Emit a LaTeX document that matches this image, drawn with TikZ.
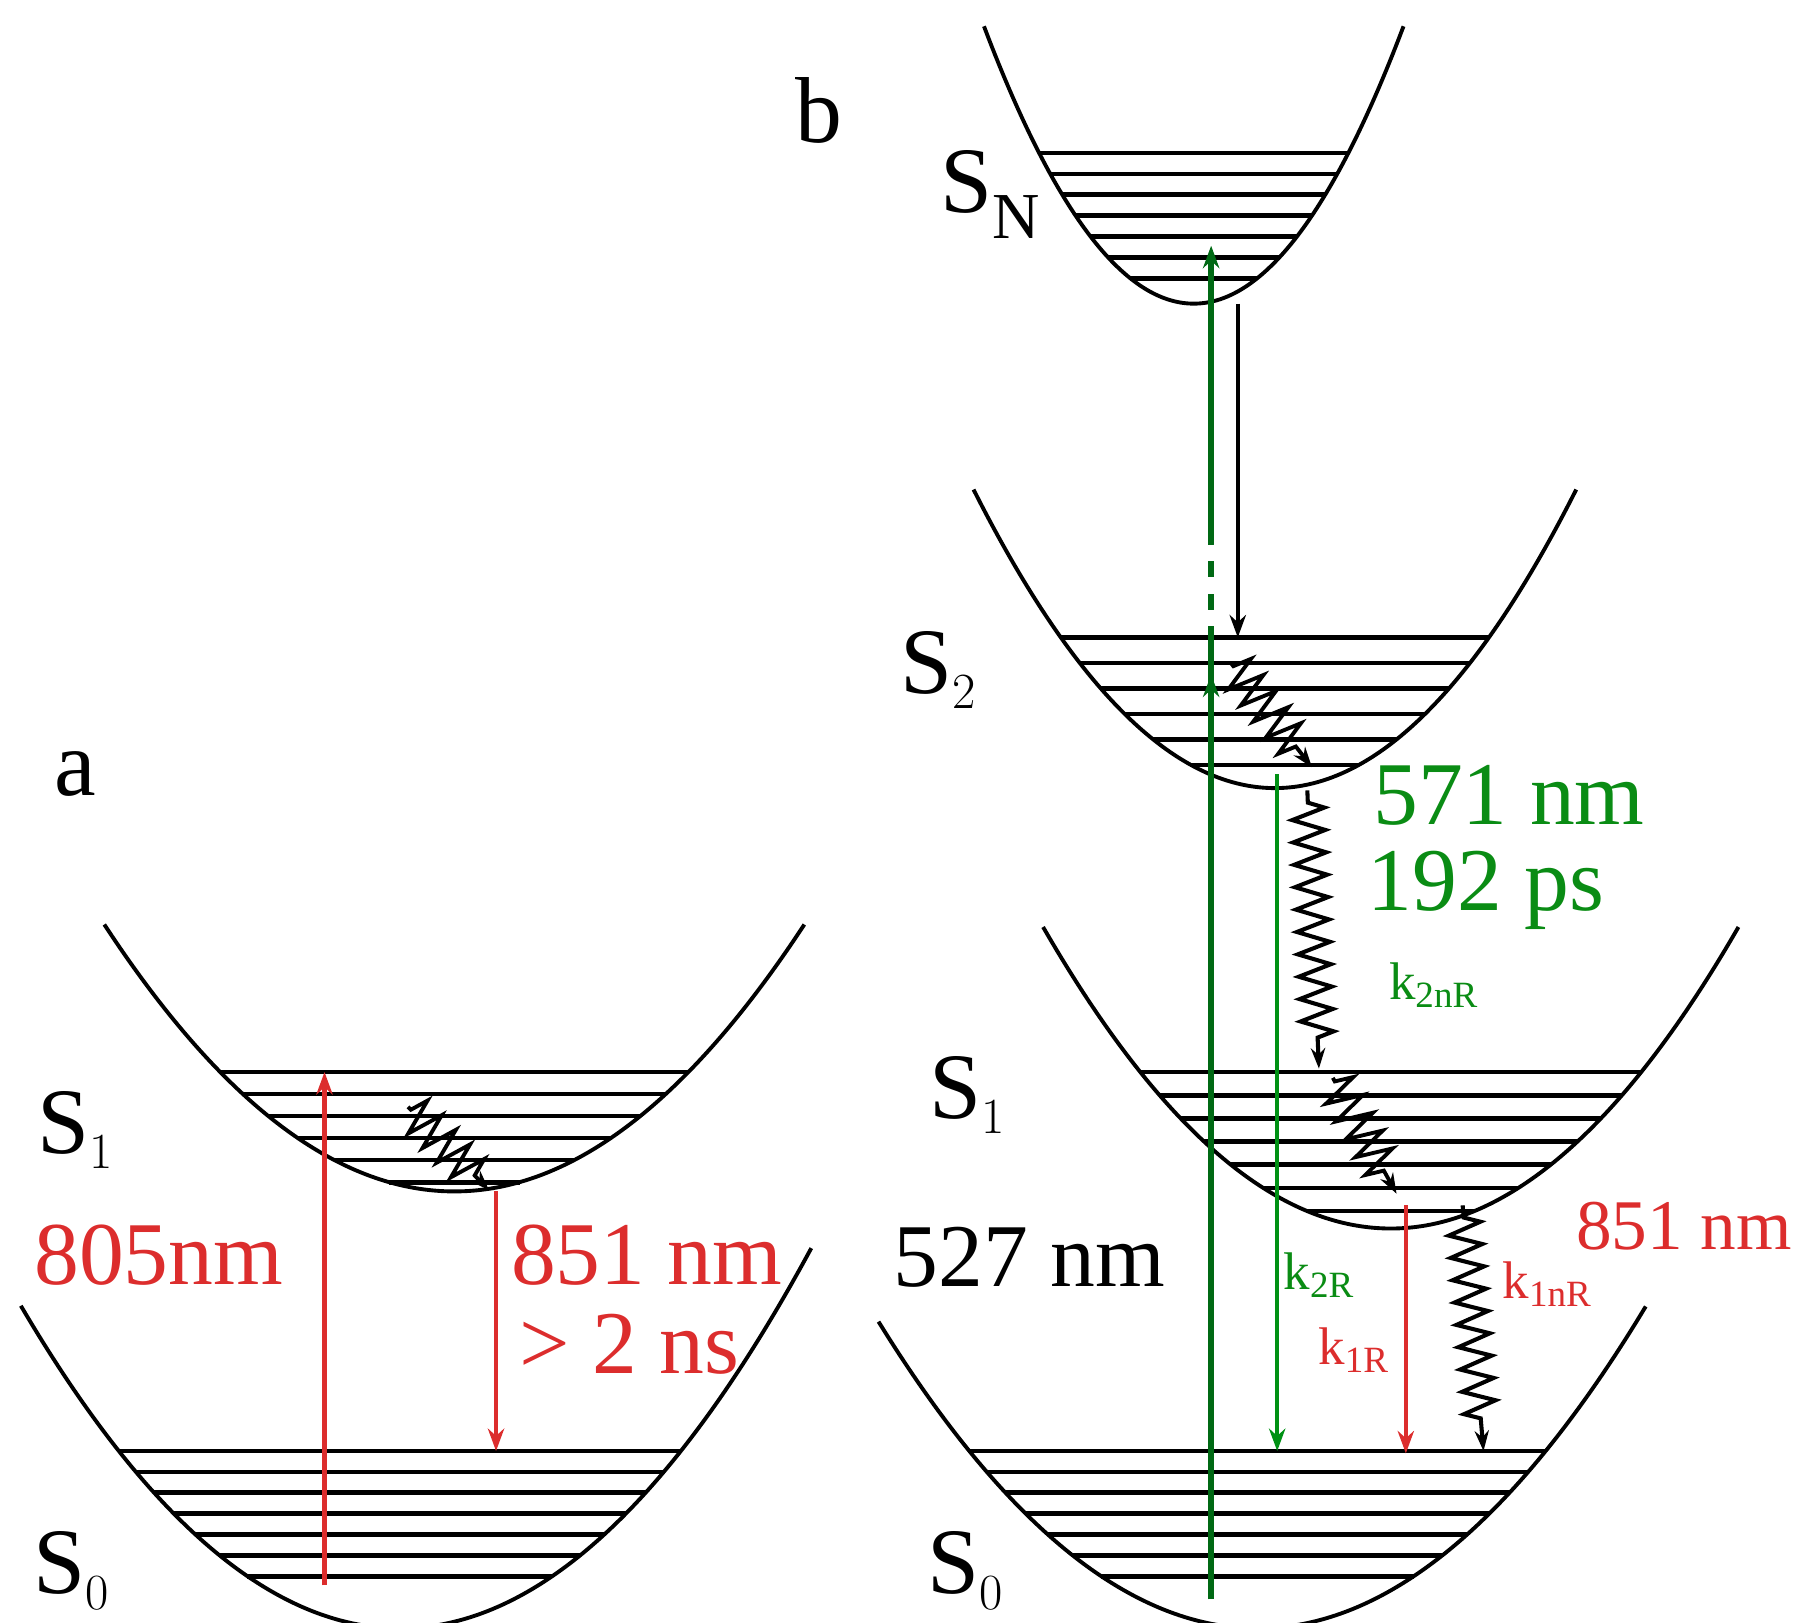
\documentclass[tikz,border=0pt]{standalone}
\usepackage{fontspec}
\setmainfont{Liberation Serif}
\usetikzlibrary{arrows.meta,decorations.pathmorphing}
\definecolor{myred}{RGB}{220,45,45}
\definecolor{dgreen}{RGB}{0,105,20}
\definecolor{lgreen}{RGB}{0,145,20}
\definecolor{tgreen}{RGB}{10,140,20}
\tikzset{
  curve/.style={line width=1.9pt},
  lvl/.style={line width=2.3pt},
  arr/.style={line width=2.2pt,-{Stealth[length=11pt,width=8pt]}},
  wig/.style={line width=2pt,decorate,decoration={zigzag,segment length=11pt,amplitude=8pt,pre length=6pt,post length=14pt}},
  wigd/.style={line width=1.9pt,decorate,decoration={zigzag,segment length=10pt,amplitude=9pt,pre length=2pt,post length=10pt}},
  tip/.style={-{Stealth[length=10pt,width=7pt]}},
  lab/.style={font=\fontsize{46}{48}\selectfont},
  mid/.style={font=\fontsize{44}{46}\selectfont},
  mids/.style={font=\fontsize{35}{37}\selectfont},
  sm/.style={font=\fontsize{26}{28}\selectfont},
}
\newcommand{\well}[6]{% x0, vy, w, xl, xr, levels
  \draw[curve] plot[domain=#4:#5,samples=80,smooth] (\x,{#2-((\x-#1)/#3)^2});
  \foreach \ly in {#6} \draw[lvl] ({#1-#3*sqrt(#2-\ly)},\ly) -- ({#1+#3*sqrt(#2-\ly)},\ly);
}
\begin{document}
\begin{tikzpicture}[x=0.02cm,y=-0.02cm]
\useasboundingbox (0,0) rectangle (1560,1400);
% panel a
\well{392}{1028}{19.9}{90}{694}{925,944,963,982,1001,1020}
\well{345}{1405}{19.6}{18}{700}{1252,1270,1288,1306,1324,1342,1360}
% panel b
\well{1030}{262}{11.7}{849}{1211}{132,150,168,186,204,222,240}
\well{1100}{680}{16.2}{840}{1360}{550,572,594,616,638,660}
\well{1200}{1060}{18.6}{900}{1500}{925,945,965,985,1005,1025,1045}
\well{1085}{1405}{20.1}{758}{1420}{1252,1270,1288,1306,1324,1342,1360}
% coordinates
\coordinate (a1) at (280,1368); \coordinate (a2) at (280,925);
\coordinate (a3) at (428,1028); \coordinate (a4) at (428,1252);
\coordinate (aw1) at (352,955); \coordinate (aw2) at (422,1027);
\coordinate (g1) at (1045,1380); \coordinate (g2) at (1045,212); \coordinate (g3) at (1045,582);
\coordinate (g4) at (1045,600);
\coordinate (k1) at (1068,262); \coordinate (k2) at (1068,550);
\coordinate (sw1) at (1062,572); \coordinate (sw2) at (1132,662);
\coordinate (v1) at (1128,682); \coordinate (v2) at (1138,922);
\coordinate (gg1) at (1102,668); \coordinate (gg2) at (1102,1252);
\coordinate (bw1) at (1150,930); \coordinate (bw2) at (1205,1030);
\coordinate (r1) at (1213,1040); \coordinate (r2) at (1213,1254);
\coordinate (v3) at (1262,1040); \coordinate (v4) at (1280,1252);
% arrows a
\draw[arr,myred] (a1) -- (a2);
\draw[arr,myred] (a3) -- (a4);
\draw[wigd,tip] (aw1) -- (aw2);
% arrows b
\draw[arr,dgreen,line width=2.8pt] (g1) -- (g2);
\draw[white,line width=3pt,dash pattern=on 8pt off 8pt] (1045,470) -- (1045,545);
\draw[arr,dgreen,line width=2.8pt] (g4) -- (g3);
\draw[arr] (k1) -- (k2);
\draw[wigd,tip] (sw1) -- (sw2);
\draw[wig,tip] (v1) -- (v2);
\draw[arr,lgreen] (gg1) -- (gg2);
\draw[wigd,tip] (bw1) -- (bw2);
\draw[arr,myred] (r1) -- (r2);
\draw[wig,tip] (v3) -- (v4);
% labels a
\node[lab] (la) at (65,668) {a};
\node[lab] (as1) at (65,975) {S$_1$};
\node[lab] (as0) at (62,1355) {S$_0$};
\node[mid,myred] (t805) at (137,1083) {805nm};
\node[mid,myred] (t851a) at (558,1083) {851 nm};
\node[mid,myred] (t2ns) at (543,1160) {> 2 ns};
% labels b
\node[lab] (lb) at (707,95) {b};
\node[lab] (bsn) at (855,168) {S$_{\mathrm{N}}$};
\node[lab] (bs2) at (810,578) {S$_2$};
\node[lab] (bs1) at (835,945) {S$_1$};
\node[lab] (bs0) at (833,1355) {S$_0$};
\node[mid] (t527) at (888,1085) {527 nm};
\node[mid,tgreen] (t571) at (1302,686) {571 nm};
\node[mid,tgreen] (t192) at (1282,768) {192 ps};
\node[sm,tgreen] (k2n) at (1237,850) {k$_{\mathrm{2nR}}$};
\node[sm,tgreen] (k2r) at (1138,1100) {k$_{\mathrm{2R}}$};
\node[sm,myred] (k1r) at (1168,1165) {k$_{\mathrm{1R}}$};
\node[mids,myred] (t851b) at (1453,1058) {851 nm};
\node[sm,myred] (k1n) at (1335,1108) {k$_{\mathrm{1nR}}$};
\end{tikzpicture}
\end{document}
